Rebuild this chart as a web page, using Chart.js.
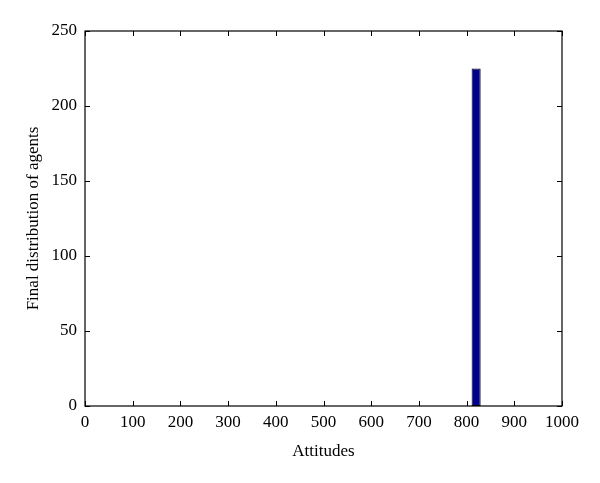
<!DOCTYPE html>
<html>
<head>
<meta charset="utf-8">
<script src="https://cdn.jsdelivr.net/npm/chart.js@4/dist/chart.umd.min.js"></script>
<style>
  html, body { margin: 0; padding: 0; background: #fff; }
  #wrap { width: 600px; height: 483px; }
</style>
</head>
<body>
<div id="wrap"><canvas id="histChart" width="600" height="483"></canvas></div>
<script>
// Histogram of final attitudes (bin centre / count)
const binCenters = [820];
const binCounts = [225];
const xTicks = [0, 100, 200, 300, 400, 500, 600, 700, 800, 900, 1000];
const yTicks = [0, 50, 100, 150, 200, 250];

const FONT = '"Liberation Serif", "DejaVu Serif", serif';

// MATLAB-style inward ticks on all four sides of the box
const inwardTicks = {
    id: 'inwardTicks',
    afterDraw(chart) {
        const { ctx, chartArea: a, scales } = chart;
        const len = 5;
        ctx.save();
        ctx.strokeStyle = '#000';
        ctx.lineWidth = 1;
        ctx.beginPath();
        xTicks.forEach(v => {
            const px = Math.round(scales.x.getPixelForValue(v)) + 0.5;
            ctx.moveTo(px, a.bottom); ctx.lineTo(px, a.bottom - len);
            ctx.moveTo(px, a.top); ctx.lineTo(px, a.top + len);
        });
        yTicks.forEach(v => {
            const py = Math.round(scales.y.getPixelForValue(v)) + 0.5;
            ctx.moveTo(a.left, py); ctx.lineTo(a.left + len, py);
            ctx.moveTo(a.right, py); ctx.lineTo(a.right - len, py);
        });
        ctx.stroke();
        ctx.lineWidth = 1.2;
        ctx.strokeRect(a.left, a.top, a.right - a.left, a.bottom - a.top);
        ctx.restore();
    }
};

new Chart(document.getElementById('histChart'), {
    type: 'bar',
    data: {
        datasets: [{
            data: binCenters.map((c, i) => ({ x: c, y: binCounts[i] })),
            backgroundColor: '#00008c',
            borderColor: '#000000',
            borderWidth: 1,
            borderSkipped: false,
            barPercentage: 0.19,
            categoryPercentage: 1
        }]
    },
    options: {
        responsive: false,
        animation: false,
        layout: { padding: { top: 31, right: 38, left: 0, bottom: 17 } },
        plugins: {
            legend: { display: false },
            tooltip: { enabled: false }
        },
        scales: {
            x: {
                type: 'linear',
                offset: false,
                min: 0,
                max: 1000,
                afterBuildTicks: s => { s.ticks = xTicks.map(v => ({ value: v })); },
                afterFit: s => { s.height = 60; },
                grid: { display: false, drawTicks: false },
                border: { display: false },
                ticks: {
                    color: '#000',
                    padding: 6,
                    maxRotation: 0,
                    minRotation: 0,
                    autoSkip: false,
                    callback: v => String(v),
                    font: { family: FONT, size: 17 }
                },
                title: {
                    display: true,
                    text: 'Attitudes',
                    color: '#000',
                    padding: { top: 6 },
                    font: { family: FONT, size: 17 }
                }
            },
            y: {
                min: 0,
                max: 250,
                afterBuildTicks: s => { s.ticks = yTicks.map(v => ({ value: v })); },
                afterFit: s => { s.width = 85; },
                grid: { display: false, drawTicks: false },
                border: { display: false },
                ticks: {
                    color: '#000',
                    padding: 8,
                    callback: v => String(v),
                    font: { family: FONT, size: 17 }
                },
                title: {
                    display: true,
                    text: 'Final distribution of agents',
                    color: '#000',
                    padding: { top: 23, bottom: 6 },
                    font: { family: FONT, size: 17 }
                }
            }
        }
    },
    plugins: [inwardTicks]
});
</script>
</body>
</html>
